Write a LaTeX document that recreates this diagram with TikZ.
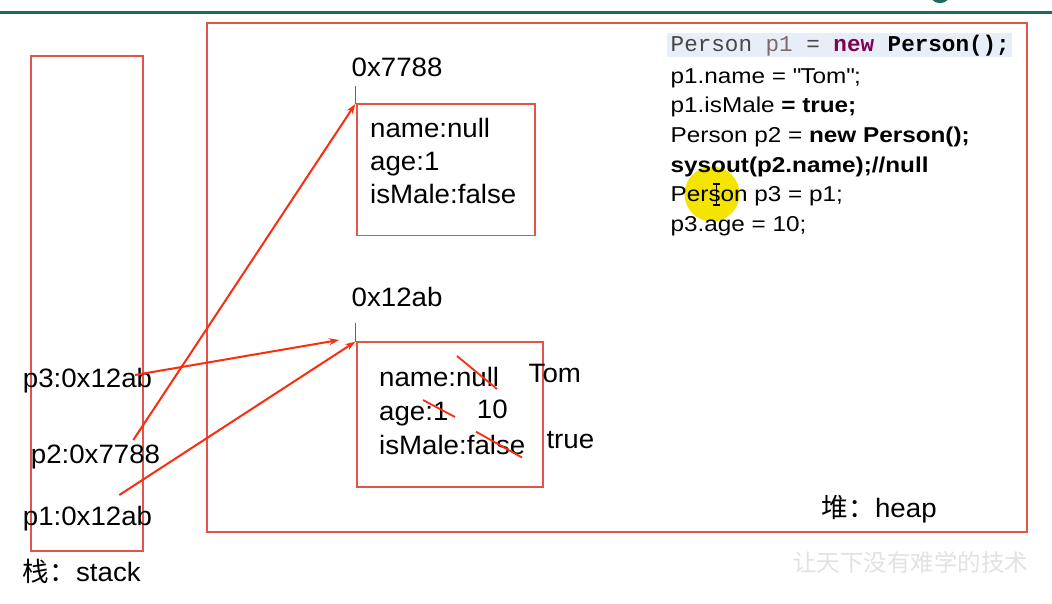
\documentclass[tikz,border=0pt]{standalone}
\usepackage{fontspec}
\setmainfont{Liberation Sans}[FakeStretch=1.04]
\newfontfamily\codesans{Liberation Sans}[FakeStretch=1.13]
\newfontfamily\cjk{Noto Sans CJK SC}
\newfontfamily\codemono{Liberation Mono}
\usetikzlibrary{arrows.meta}
\definecolor{boxred}{RGB}{226,84,74}
\definecolor{arrred}{RGB}{250,45,15}
\definecolor{tealline}{RGB}{28,108,94}
\definecolor{hlblue}{RGB}{232,238,248}
\definecolor{kwpurple}{RGB}{127,0,85}
\definecolor{vargray}{RGB}{125,105,105}
\definecolor{codegray}{RGB}{70,70,70}
\definecolor{hiyellow}{RGB}{245,228,0}
\definecolor{wmgray}{RGB}{226,226,226}
\begin{document}
\begin{tikzpicture}[x=1pt,y=-1pt,
  frame/.style={draw=boxred,line width=1.6pt},
  lbl/.style={anchor=base west,inner sep=0pt,font=\fontsize{26.6}{26.6}\selectfont},
  codeln/.style={anchor=base west,inner sep=0pt,font=\codesans\fontsize{21.5}{21.5}\selectfont},
  refarrow/.style={draw=arrred,line width=2pt,-{Stealth[length=10pt,width=7pt]}},
  strikeline/.style={draw=arrred,line width=1.8pt},
  addrtick/.style={draw=arrred,line width=1.6pt}]
% canvas
\fill[white] (0,0) rectangle (1052,603);
\useasboundingbox (0,0) rectangle (1052,603);
\begin{scope}
\clip (0,0) rectangle (1052,603);
\fill[tealline] (940,-2) ellipse (8 and 5);
\end{scope}
\draw[tealline,line width=2.6pt] (0,12.2) -- (1052,12.2);

% frames
\draw[frame] (31,56) rectangle (143,550.7);
\draw[frame] (206.7,22.7) rectangle (1026.7,532);
\draw[frame] (356.7,104) rectangle (535,235.5);
\draw[frame] (356.7,341.7) rectangle (543,486.7);

% code panel
\fill[hlblue] (667,32.7) rectangle (1011.7,57.3);
\fill[hiyellow] (712,194) circle (27.5);
\node[anchor=base west,inner sep=0pt,font=\codemono\fontsize{22.6}{22.6}\selectfont] (c1) at (670.5,51.7)
  {\textcolor{codegray}{Person} \textcolor{vargray}{p1} \textcolor{codegray}{=} \textcolor{kwpurple}{\bfseries new} \textbf{Person();}};
\node[codeln] (c2) at (670.5,83) {p1.name = \textquotedbl Tom\textquotedbl;};
\node[codeln] (c3) at (670.5,112.7) {p1.isMale \textbf{= true;}};
\node[codeln] (c4) at (670.5,142.4) {Person p2 = \textbf{new Person();}};
\node[codeln] (c5) at (670.5,172) {\textbf{sysout(p2.name);//null}};
\node[codeln] (c6) at (670.5,201.7) {Person p3 = p1;};
\node[codeln] (c7) at (670.5,231.4) {p3.age = 10;};
% text cursor
\draw[black,line width=1.2pt] (716.5,184) -- (716.5,205) (713,184) -- (720,184) (713,205) -- (720,205);

% object 0x7788
\node[lbl] (a1) at (351.5,76.7) {0x7788};
\node[lbl] (o1n) at (370,137) {name:null};
\node[lbl] (o1a) at (370,170.3) {age:1};
\node[lbl] (o1m) at (370,203.7) {isMale:false};
\coordinate (t1top) at (355.3,86);
\coordinate (t1) at (355.3,104);
\draw[addrtick] (t1top) -- (t1);

% object 0x12ab
\node[lbl] (a2) at (351.5,306.7) {0x12ab};
\node[lbl] (o2n) at (379,386.7) {name:null};
\node[lbl] (o2a) at (379,420) {age:1};
\node[lbl] (o2m) at (379,454.5) {isMale:false};
\node[lbl] (tom) at (528.5,382.7) {Tom};
\node[lbl] (ten) at (476.7,418.3) {10};
\node[lbl] (tru) at (546.3,448.3) {true};
\coordinate (t2top) at (355.3,323);
\coordinate (t2) at (355.3,341.7);
\draw[addrtick] (t2top) -- (t2);
\coordinate (s1a) at (457,356); \coordinate (s1b) at (497,389);
\coordinate (s2a) at (423,400); \coordinate (s2b) at (455,417);
\coordinate (s3a) at (476,431.7); \coordinate (s3b) at (522,457.5);
\draw[strikeline] (s1a) -- (s1b);
\draw[strikeline] (s2a) -- (s2b);
\draw[strikeline] (s3a) -- (s3b);

% stack
\node[lbl] (p3) at (22.7,387) {p3:0x12ab};
\node[lbl] (p2) at (30.7,463) {p2:0x7788};
\node[lbl] (p1) at (22.7,525.5) {p1:0x12ab};
\node[lbl] (stk) at (22.7,581) {{\cjk 栈：}stack};
\node[lbl] (hp) at (821.7,517) {{\cjk 堆：}heap};

% references
\coordinate (p3s) at (135,375);
\coordinate (p2s) at (133.3,440);
\coordinate (p1s) at (119.3,495);
\coordinate (p3e) at (339,340);
\draw[refarrow] (p3s) -- (p3e);
\draw[refarrow] (p2s) -- (t1);
\draw[refarrow] (p1s) -- (t2);

% watermark
\node[anchor=base west,inner sep=0pt,font=\cjk\fontsize{23.5}{23.5}\selectfont,text=wmgray] (wm) at (793,571) {让天下没有难学的技术};
\end{tikzpicture}
\end{document}
